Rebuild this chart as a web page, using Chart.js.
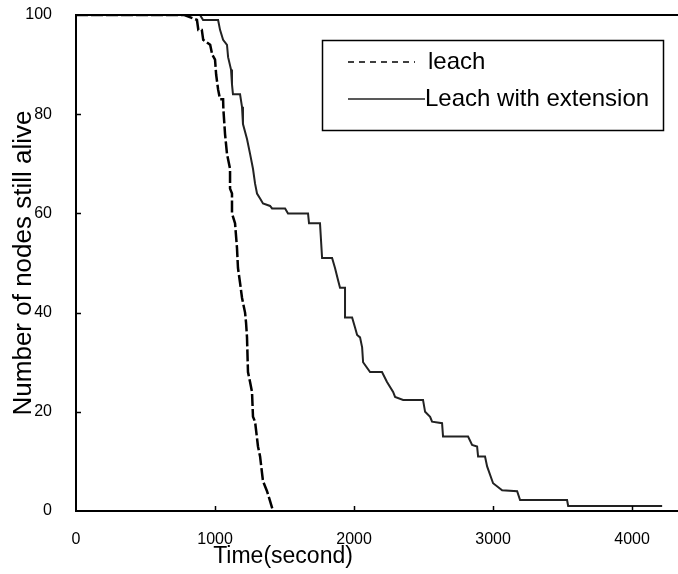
<!DOCTYPE html>
<html>
<head>
<meta charset="utf-8">
<script src="https://cdn.jsdelivr.net/npm/chart.js@4"></script>
<style>
  html, body { margin: 0; padding: 0; background: #fff; }
  #wrap { width: 678px; height: 574px; }
</style>
</head>
<body>
<div id="wrap"><canvas id="chart" width="678" height="574"></canvas></div>
<script>
// time in seconds, nodes alive
const LEACH_TIME = [0, 780, 870, 880, 905, 915, 965, 980, 1000, 1008, 1022, 1036, 1058, 1060, 1072, 1086,
  1108, 1108, 1122, 1122, 1144, 1158, 1165, 1180, 1194, 1216, 1223, 1230, 1237, 1252, 1266, 1273,
  1288, 1309, 1324, 1345, 1374, 1396, 1417];
const LEACH_ALIVE = [100, 100, 99, 97, 97, 95, 94, 92, 91, 88, 85, 83, 83, 81, 76, 72,
  69, 65, 64, 60, 58, 53, 49, 46, 43, 40, 38, 35, 28, 26, 24, 19,
  18, 13, 11, 6, 4, 2, 0];

const EXT_TIME = [0, 892, 914, 1022, 1036, 1058, 1086, 1094, 1115, 1122, 1129, 1180, 1194, 1201, 1230, 1252,
  1273, 1288, 1302, 1324, 1345, 1396, 1410, 1504, 1525, 1669, 1676, 1755, 1770, 1842, 1863, 1885,
  1899, 1935, 1935, 1986, 2007, 2022, 2043, 2058, 2065, 2115, 2201, 2237, 2281, 2295, 2353, 2496,
  2511, 2547, 2561, 2633, 2640, 2820, 2849, 2885, 2892, 2942, 2957, 3000, 3065, 3173, 3194, 3532,
  3540, 4216];
const EXT_ALIVE = [100, 100, 99, 99, 97, 95, 94, 91.5, 89, 86, 84, 84, 81.5, 78, 75, 72,
  69, 66, 64, 63, 62, 61.5, 61, 61, 60, 60, 58, 58, 51, 51, 49, 46.5,
  45, 45, 39, 39, 37, 35.5, 35, 33, 30, 28, 28, 26, 24, 23, 22.4, 22.4,
  20, 19, 18, 17.7, 15, 15, 13.3, 13, 11, 11, 9, 5.6, 4.2, 4, 2.2, 2.2,
  1, 1];

const SERIES_LABELS = ['leach', 'Leach with extension'];
const X_TICKS = [0, 1000, 2000, 3000, 4000];
const Y_TICKS = [0, 20, 40, 60, 80, 100];
const X_TITLE = 'Time(second)';
const Y_TITLE = 'Number of nodes still alive';

const FONT = "'Liberation Sans', Arial, sans-serif";

function toPoints(xs, ys) {
  return xs.map((x, i) => ({ x, y: ys[i] }));
}

// top frame line, inward tick marks, x title and the boxed legend
const framePlugin = {
  id: 'frame',
  afterDraw(chart) {
    const { ctx, chartArea: area, scales } = chart;
    ctx.save();
    ctx.strokeStyle = '#000';

    ctx.lineWidth = 2;
    ctx.beginPath();
    ctx.moveTo(area.left, area.top);
    ctx.lineTo(area.right, area.top);
    ctx.stroke();

    ctx.lineWidth = 1.5;
    ctx.beginPath();
    X_TICKS.slice(1).forEach((v) => {
      const px = Math.round(scales.x.getPixelForValue(v)) + 0.5;
      ctx.moveTo(px, area.bottom);
      ctx.lineTo(px, area.bottom - 5);
    });
    Y_TICKS.slice(1, -1).forEach((v) => {
      const py = Math.round(scales.y.getPixelForValue(v)) + 0.5;
      ctx.moveTo(area.left, py);
      ctx.lineTo(area.left + 5, py);
    });
    ctx.stroke();

    ctx.fillStyle = '#000';
    ctx.font = `23px ${FONT}`;
    ctx.textAlign = 'center';
    ctx.textBaseline = 'alphabetic';
    ctx.fillText(X_TITLE, 283, 563);

    // legend
    ctx.lineWidth = 1.5;
    ctx.strokeRect(322.5, 40.5, 341, 90);
    ctx.textAlign = 'left';
    ctx.font = `24px ${FONT}`;
    const rows = [
      { y: 62, x1: 348, x2: 415, tx: 428 },
      { y: 99, x1: 348, x2: 425, tx: 425 },
    ];
    chart.data.datasets.forEach((ds, i) => {
      const r = rows[i];
      ctx.strokeStyle = ds.borderColor;
      ctx.lineWidth = 1.5;
      ctx.setLineDash(i === 0 ? [6, 5] : []);
      ctx.beginPath();
      ctx.moveTo(r.x1, r.y);
      ctx.lineTo(r.x2, r.y);
      ctx.stroke();
      ctx.setLineDash([]);
      ctx.fillText(ds.label, r.tx, r.y + 7);
    });
    ctx.restore();
  },
};

new Chart(document.getElementById('chart'), {
  type: 'line',
  data: {
    datasets: [
      {
        label: SERIES_LABELS[0],
        data: toPoints(LEACH_TIME, LEACH_ALIVE),
        borderColor: '#000',
        borderWidth: 2.5,
        borderDash: [12, 3],
        pointRadius: 0,
        tension: 0,
      },
      {
        label: SERIES_LABELS[1],
        data: toPoints(EXT_TIME, EXT_ALIVE),
        borderColor: '#222',
        borderWidth: 2,
        pointRadius: 0,
        tension: 0,
      },
    ],
  },
  options: {
    responsive: false,
    animation: false,
    layout: { padding: { top: 15, right: 0, bottom: 0, left: 0 } },
    plugins: {
      legend: { display: false },
      tooltip: { enabled: false },
    },
    scales: {
      x: {
        type: 'linear',
        min: 0,
        max: 4330,
        afterBuildTicks: (scale) => { scale.ticks = X_TICKS.map((v) => ({ value: v })); },
        afterFit: (scale) => {
          scale.height = 63;
          scale.paddingLeft = 0;
          scale.paddingRight = 0;
        },
        grid: { drawOnChartArea: false, drawTicks: false },
        border: { display: true, color: '#000', width: 2 },
        ticks: {
          color: '#000',
          font: { family: FONT, size: 16 },
          padding: 19,
          maxRotation: 0,
          callback: (v) => String(v),
        },
      },
      y: {
        min: 0,
        max: 100,
        afterBuildTicks: (scale) => { scale.ticks = Y_TICKS.map((v) => ({ value: v })); },
        afterFit: (scale) => {
          scale.width = 76;
          scale.paddingTop = 0;
          scale.paddingBottom = 0;
        },
        grid: { drawOnChartArea: false, drawTicks: false },
        border: { display: true, color: '#000', width: 2 },
        ticks: {
          color: '#000',
          font: { family: FONT, size: 16 },
          padding: 24,
          callback: (v) => String(v),
        },
        title: {
          display: true,
          text: Y_TITLE,
          color: '#000',
          font: { family: FONT, size: 26 },
          padding: { top: 8, bottom: 0 },
        },
      },
    },
  },
  plugins: [framePlugin],
});
</script>
</body>
</html>
